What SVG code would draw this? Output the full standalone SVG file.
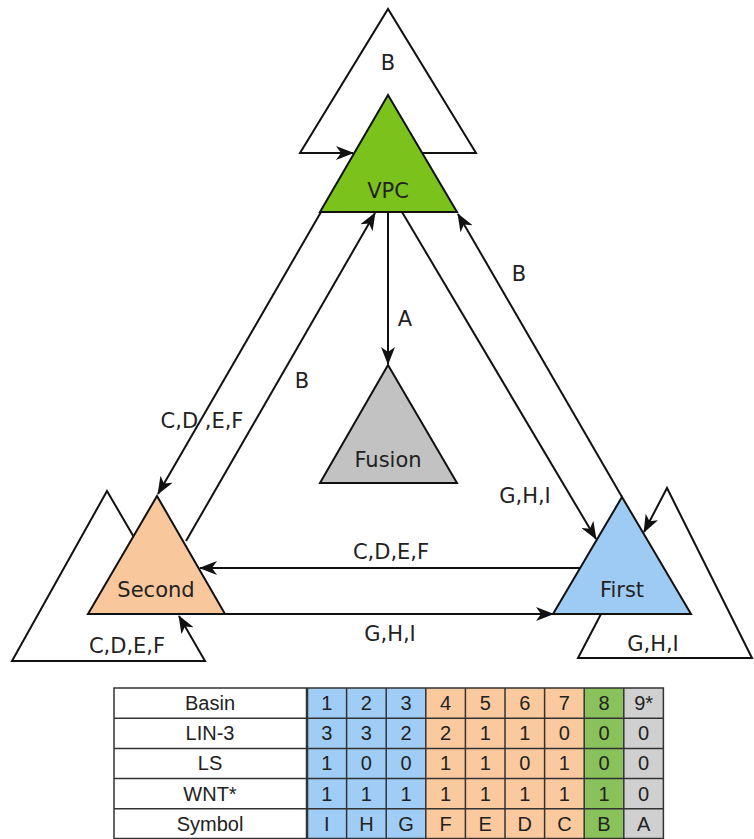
<svg xmlns="http://www.w3.org/2000/svg" width="754" height="839" viewBox="0 0 754 839">
<style>
.lbl{font-family:"DejaVu Sans",sans-serif;font-size:21px;fill:#222;text-anchor:middle}
.edge{fill:none;stroke:#111;stroke-width:2;marker-end:url(#ah)}
.loop{fill:none;stroke:#111;stroke-width:2;stroke-linejoin:miter;marker-end:url(#ah)}
.node{stroke:#111;stroke-width:2;stroke-linejoin:miter}
.t{font-family:"Liberation Sans",Arial,sans-serif;font-size:20px;fill:#222;text-anchor:middle}
.cell{stroke:#333;stroke-width:1.5}
</style>
<defs>
<marker id="ah" markerUnits="userSpaceOnUse" viewBox="0 0 18 14" markerWidth="18" markerHeight="14" refX="17" refY="7" orient="auto">
<path d="M0,0 L18,7 L0,14 L5,7 z" fill="#111"/>
</marker>
</defs>
<rect width="754" height="839" fill="#fff"/>
<g id="connectors">
<path class="loop" d="M422,153 L476,153 L388,9 L300,153 L353,153"/>
<path class="loop" d="M135,539 L107,491 L12,661 L205,661 L179,616"/>
<path class="loop" d="M601,614 L578,658 L752,658 L667,488 L644,532"/>
<path class="edge" d="M388,212 L388,364"/>
<path class="edge" d="M321,212 L158,494"/>
<path class="edge" d="M186,541 L375,213"/>
<path class="edge" d="M402,212 L596,539"/>
<path class="edge" d="M622,497 L458,214"/>
<path class="edge" d="M580,568 L200,568"/>
<path class="edge" d="M225,614 L553,614"/>
<text class="lbl" x="388" y="70">B</text>
<text class="lbl" x="405" y="326">A</text>
<text class="lbl" x="302" y="388">B</text>
<text class="lbl" x="202" y="428">C,D ,E,F</text>
<text class="lbl" x="519" y="281">B</text>
<text class="lbl" x="525" y="503">G,H,I</text>
<text class="lbl" x="391" y="559">C,D,E,F</text>
<text class="lbl" x="390" y="641">G,H,I</text>
<text class="lbl" x="127" y="653">C,D,E,F</text>
<text class="lbl" x="653" y="651">G,H,I</text>
</g>
<g id="node-vpc">
<polygon class="node" points="388,95 457,212 320,212" fill="#7cc21c"/>
<text class="lbl" x="388" y="198">VPC</text>
</g>
<g id="node-fusion">
<polygon class="node" points="388,365 457,483 320,483" fill="#c2c2c2"/>
<text class="lbl" x="388" y="467">Fusion</text>
</g>
<g id="node-second">
<polygon class="node" points="157,496 225,614 88,614" fill="#f8c79c"/>
<text class="lbl" x="156" y="597">Second</text>
</g>
<g id="node-first">
<polygon class="node" points="622,497 691,614 553,614" fill="#9ecbf4"/>
<text class="lbl" x="622" y="597">First</text>
</g>
<g id="table">
<rect x="114" y="688" width="193" height="151" fill="#fff"/>
<rect x="307" y="688" width="118.8" height="151" fill="#9fcdf5"/>
<rect x="425.8" y="688" width="158.4" height="151" fill="#fbc99e"/>
<rect x="584.2" y="688" width="39.6" height="151" fill="#89c25a"/>
<rect x="623.8" y="688" width="39.6" height="151" fill="#d0d0d0"/>
<g class="cell">
<rect x="114" y="688" width="549.4" height="150.5" fill="none"/>
<line x1="114" y1="718.2" x2="663.4" y2="718.2"/>
<line x1="114" y1="748.4" x2="663.4" y2="748.4"/>
<line x1="114" y1="778.6" x2="663.4" y2="778.6"/>
<line x1="114" y1="808.8" x2="663.4" y2="808.8"/>
<line x1="307" y1="688" x2="307" y2="838.5" stroke-width="2.5"/>
<line x1="346.6" y1="688" x2="346.6" y2="838.5"/>
<line x1="386.2" y1="688" x2="386.2" y2="838.5"/>
<line x1="425.8" y1="688" x2="425.8" y2="838.5"/>
<line x1="465.4" y1="688" x2="465.4" y2="838.5"/>
<line x1="505" y1="688" x2="505" y2="838.5"/>
<line x1="544.6" y1="688" x2="544.6" y2="838.5"/>
<line x1="584.2" y1="688" x2="584.2" y2="838.5"/>
<line x1="623.8" y1="688" x2="623.8" y2="838.5"/>
</g>
<text class="t" x="210" y="710">Basin</text>
<text class="t" x="210" y="740">LIN-3</text>
<text class="t" x="210" y="770">LS</text>
<text class="t" x="210" y="801">WNT*</text>
<text class="t" x="210" y="831">Symbol</text>
<text class="t" x="326.8" y="710">1</text><text class="t" x="366.4" y="710">2</text><text class="t" x="406" y="710">3</text><text class="t" x="445.6" y="710">4</text><text class="t" x="485.2" y="710">5</text><text class="t" x="524.8" y="710">6</text><text class="t" x="564.4" y="710">7</text><text class="t" x="604" y="710">8</text><text class="t" x="643.6" y="710">9*</text>
<text class="t" x="326.8" y="740">3</text><text class="t" x="366.4" y="740">3</text><text class="t" x="406" y="740">2</text><text class="t" x="445.6" y="740">2</text><text class="t" x="485.2" y="740">1</text><text class="t" x="524.8" y="740">1</text><text class="t" x="564.4" y="740">0</text><text class="t" x="604" y="740">0</text><text class="t" x="643.6" y="740">0</text>
<text class="t" x="326.8" y="770">1</text><text class="t" x="366.4" y="770">0</text><text class="t" x="406" y="770">0</text><text class="t" x="445.6" y="770">1</text><text class="t" x="485.2" y="770">1</text><text class="t" x="524.8" y="770">0</text><text class="t" x="564.4" y="770">1</text><text class="t" x="604" y="770">0</text><text class="t" x="643.6" y="770">0</text>
<text class="t" x="326.8" y="801">1</text><text class="t" x="366.4" y="801">1</text><text class="t" x="406" y="801">1</text><text class="t" x="445.6" y="801">1</text><text class="t" x="485.2" y="801">1</text><text class="t" x="524.8" y="801">1</text><text class="t" x="564.4" y="801">1</text><text class="t" x="604" y="801">1</text><text class="t" x="643.6" y="801">0</text>
<text class="t" x="326.8" y="831">I</text><text class="t" x="366.4" y="831">H</text><text class="t" x="406" y="831">G</text><text class="t" x="445.6" y="831">F</text><text class="t" x="485.2" y="831">E</text><text class="t" x="524.8" y="831">D</text><text class="t" x="564.4" y="831">C</text><text class="t" x="604" y="831">B</text><text class="t" x="643.6" y="831">A</text>
</g>
</svg>
